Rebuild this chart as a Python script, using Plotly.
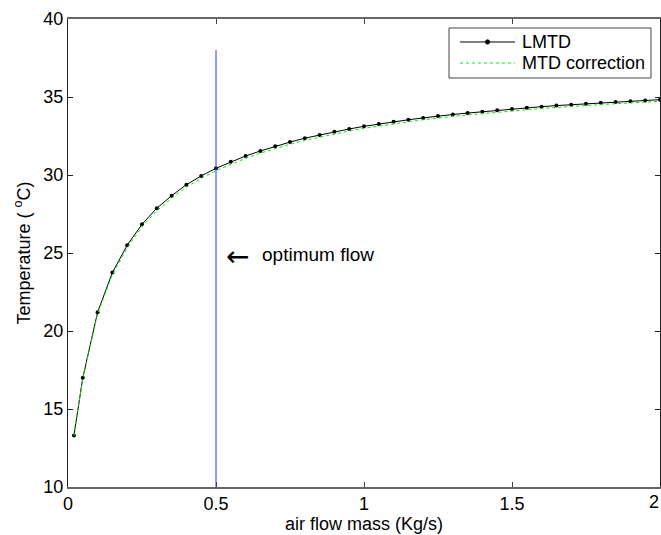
import plotly.graph_objects as go

flow = [0.02, 0.05, 0.10, 0.15, 0.20, 0.25, 0.30, 0.35, 0.40, 0.45, 0.50,
        0.55, 0.60, 0.65, 0.70, 0.75, 0.80, 0.85, 0.90, 0.95, 1.00,
        1.05, 1.10, 1.15, 1.20, 1.25, 1.30, 1.35, 1.40, 1.45, 1.50,
        1.55, 1.60, 1.65, 1.70, 1.75, 1.80, 1.85, 1.90, 1.95, 2.00]

lmtd = [13.3, 17.0, 21.2, 23.75, 25.5, 26.84, 27.87, 28.67, 29.38, 29.94, 30.43,
        30.85, 31.22, 31.54, 31.84, 32.11, 32.36, 32.57, 32.77, 32.95, 33.12,
        33.27, 33.41, 33.54, 33.66, 33.78, 33.88, 33.97, 34.06, 34.15, 34.23,
        34.31, 34.38, 34.45, 34.51, 34.57, 34.63, 34.68, 34.73, 34.78, 34.83]

mtd_corr = [13.28, 16.95, 21.1, 23.62, 25.35, 26.68, 27.71, 28.51, 29.22, 29.78, 30.28,
            30.70, 31.07, 31.40, 31.70, 31.97, 32.22, 32.43, 32.63, 32.82, 32.99,
            33.14, 33.28, 33.41, 33.54, 33.66, 33.76, 33.85, 33.94, 34.03, 34.11,
            34.19, 34.26, 34.33, 34.40, 34.46, 34.52, 34.57, 34.62, 34.67, 34.72]

series_names = ["LMTD", "MTD correction"]

opt_x = [0.5, 0.5]
opt_y = [10, 38]
opt_label = "optimum flow"

xticks = [0, 0.5, 1, 1.5, 2]
xticklabels = ["0", "0.5", "1", "1.5", "2"]
yticks = [10, 15, 20, 25, 30, 35, 40]

FONT = "Liberation Sans, Arial, sans-serif"
BLACK_C = "black"
GREEN_C = "#00ee00"

fig = go.Figure()
fig.add_trace(go.Scatter(
    x=flow, y=lmtd, mode="lines+markers", name=series_names[0],
    line=dict(color=BLACK_C, width=1),
    marker=dict(color=BLACK_C, size=4, symbol="circle"),
    showlegend=False,
))
fig.add_trace(go.Scatter(
    x=flow, y=mtd_corr, mode="lines", name=series_names[1],
    line=dict(color=GREEN_C, width=1, dash="dot"),
    showlegend=False,
))
fig.add_trace(go.Scatter(
    x=opt_x, y=opt_y, mode="lines", showlegend=False,
    line=dict(color="#3333ff", width=1),
))

# optimum flow label with left arrow
fig.add_annotation(
    x=0.527, y=24.75, xref="x", yref="y", text="\u2190",
    showarrow=False, xanchor="left", yanchor="middle",
    font=dict(family="DejaVu Sans", size=28, color="black"),
)
fig.add_annotation(
    x=0.648, y=24.9, xref="x", yref="y", text=opt_label,
    showarrow=False, xanchor="left", yanchor="middle",
    font=dict(family=FONT, size=19, color="black"),
)

# last x tick label, kept inside the page edge
fig.add_annotation(
    x=xticks[-1], y=0, xref="x", yref="paper", text=xticklabels[-1],
    showarrow=False, xanchor="right", yanchor="top", yshift=-3, xshift=1,
    font=dict(family=FONT, size=18, color="black"),
)

# custom legend box (paper coordinates)
lx0, lx1, ly0, ly1 = 0.6436, 0.9848, 0.8739, 0.9808
row_y = [0.9509, 0.906]
sx0, sx1, tx = 0.6622, 0.7551, 0.7635
fig.add_shape(type="rect", xref="paper", yref="paper",
              x0=lx0, x1=lx1, y0=ly0, y1=ly1,
              line=dict(color="#444", width=1), fillcolor="white", layer="above")
fig.add_shape(type="line", xref="paper", yref="paper",
              x0=sx0, x1=sx1, y0=row_y[0], y1=row_y[0],
              line=dict(color=BLACK_C, width=1), layer="above")
fig.add_shape(type="circle", xref="paper", yref="paper",
              x0=(sx0 + sx1) / 2 - 0.0035, x1=(sx0 + sx1) / 2 + 0.0035,
              y0=row_y[0] - 0.0045, y1=row_y[0] + 0.0045,
              line=dict(color=BLACK_C, width=1), fillcolor=BLACK_C, layer="above")
fig.add_shape(type="line", xref="paper", yref="paper",
              x0=sx0, x1=sx1, y0=row_y[1], y1=row_y[1],
              line=dict(color=GREEN_C, width=1, dash="dot"), layer="above")
for name, ry in zip(series_names, row_y):
    fig.add_annotation(
        x=tx, y=ry, xref="paper", yref="paper", text=name,
        showarrow=False, xanchor="left", yanchor="middle",
        font=dict(family=FONT, size=18, color="black"),
    )

fig.update_layout(
    width=661, height=535,
    margin=dict(l=68, r=1, t=19, b=48),
    paper_bgcolor="white", plot_bgcolor="white",
    font=dict(family=FONT, size=18, color="black"),
    showlegend=False,
    xaxis=dict(
        range=[0, 2], tickvals=xticks, ticktext=xticklabels,
        showgrid=False, zeroline=False,
        showline=True, linecolor="#666", linewidth=1.5, mirror="ticks",
        ticks="inside", ticklen=5, tickcolor="#444",
        title=dict(text="air flow mass (Kg/s)", standoff=4, font=dict(size=18)),
        tickfont=dict(size=18),
    ),
    yaxis=dict(
        range=[10, 40], tickvals=yticks,
        showgrid=False, zeroline=False,
        showline=True, linecolor="#222", linewidth=1, mirror="ticks",
        ticks="inside", ticklen=5, tickcolor="#222",
        title=dict(text="Temperature ( <sup>o</sup>C)", standoff=8, font=dict(size=18)),
        tickfont=dict(size=18),
    ),
)

fig.write_html("out.html")
